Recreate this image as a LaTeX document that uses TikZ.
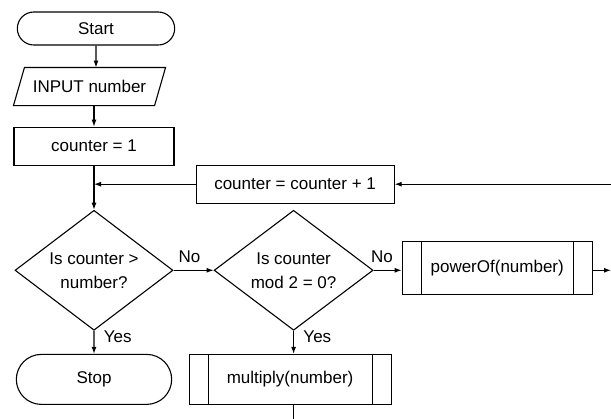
\documentclass[tikz,border=0pt]{standalone}
\usepackage{fontspec}
\setmainfont{Liberation Sans}
\usepackage{tikz}
\usetikzlibrary{arrows.meta,positioning,shapes.geometric,shapes.misc}

\begin{document}
\begin{tikzpicture}[x=1pt, y=1pt, line width=1.1pt,
  font=\fontsize{17}{24}\selectfont,
  block/.style={rectangle, draw, text centered, minimum height=38pt},
  term/.style={rounded rectangle, draw, text centered},
  io/.style={rectangle, text centered, minimum width=151pt, minimum height=37pt},
  decision/.style={diamond, draw, aspect=1.3, inner sep=0pt, align=center, minimum height=120pt},
  subproc/.style={block, minimum height=53pt, path picture={
      \draw ([xshift=19pt]path picture bounding box.north west) -- ([xshift=19pt]path picture bounding box.south west);
      \draw ([xshift=-19pt]path picture bounding box.north east) -- ([xshift=-19pt]path picture bounding box.south east);}},
  line/.style={draw, -{Latex[length=7pt,width=5pt]}}]
  \useasboundingbox (0,0) rectangle (611,419);
  \node [term, minimum width=164pt, minimum height=33pt] (start) at (96,390.5) {Start};
  \node [io, below=22pt of start, xshift=-6.5pt] (input) {INPUT number};
  \node [block, below=21pt of input, xshift=4.5pt, minimum width=160pt] (init) {counter = 1};
  \node [decision, below=44pt of init, minimum width=158pt] (dec1) {Is counter >\\number?};
  \node [decision, right=40pt of dec1, minimum width=159pt] (dec2) {Is counter\\mod 2 = 0?};
  \node [block, above=6pt of dec2, xshift=1.5pt, minimum width=198pt] (incr) {counter = counter + 1};
  \node [subproc, right=28pt of dec2, yshift=2.5pt, minimum width=190pt] (power) {powerOf(number)};
  \node [term, below=23pt of dec1, minimum width=162pt, minimum height=50pt] (stop) {Stop};
  \node [subproc, below=23pt of dec2, xshift=-3.5pt, minimum width=202pt, minimum height=50pt] (mult) {multiply(number)};
  % slanted sides of the input box
  \draw ([xshift=11pt]input.north west) -- (input.north east) -- ([xshift=-11pt]input.south east) -- (input.south west) -- cycle;
  % free ends at the edge of the picture
  \coordinate (loopin) at (611,0 |- incr);
  \coordinate (powout) at (611,0 |- dec2);
  \coordinate (multout) at (dec2 |- 0,0);
  \path [line] (start) -- (start |- input.north);
  \path [line] (init |- input.south) -- (init);
  \path [line] (init) -- (dec1);
  \path [line] (loopin) -- (incr);
  \path [line] (incr) -- (incr -| init);
  \path [line] (dec1) -- node[above=4pt, pos=0.4] {No} (dec2);
  \path [line] (dec2.east) -- node[above=4pt, pos=0.3] {No} (dec2.east -| power.west);
  \path [line] (dec2 -| power.east) -- (powout);
  \path [line] (dec1) -- node[right=6pt, pos=0.25] {Yes} (stop);
  \path [line] (dec2.south) -- node[right=6pt, pos=0.25] {Yes} (dec2.south |- mult.north);
  \draw (dec2.south |- mult.south) -- (multout);
\end{tikzpicture}
\end{document}
